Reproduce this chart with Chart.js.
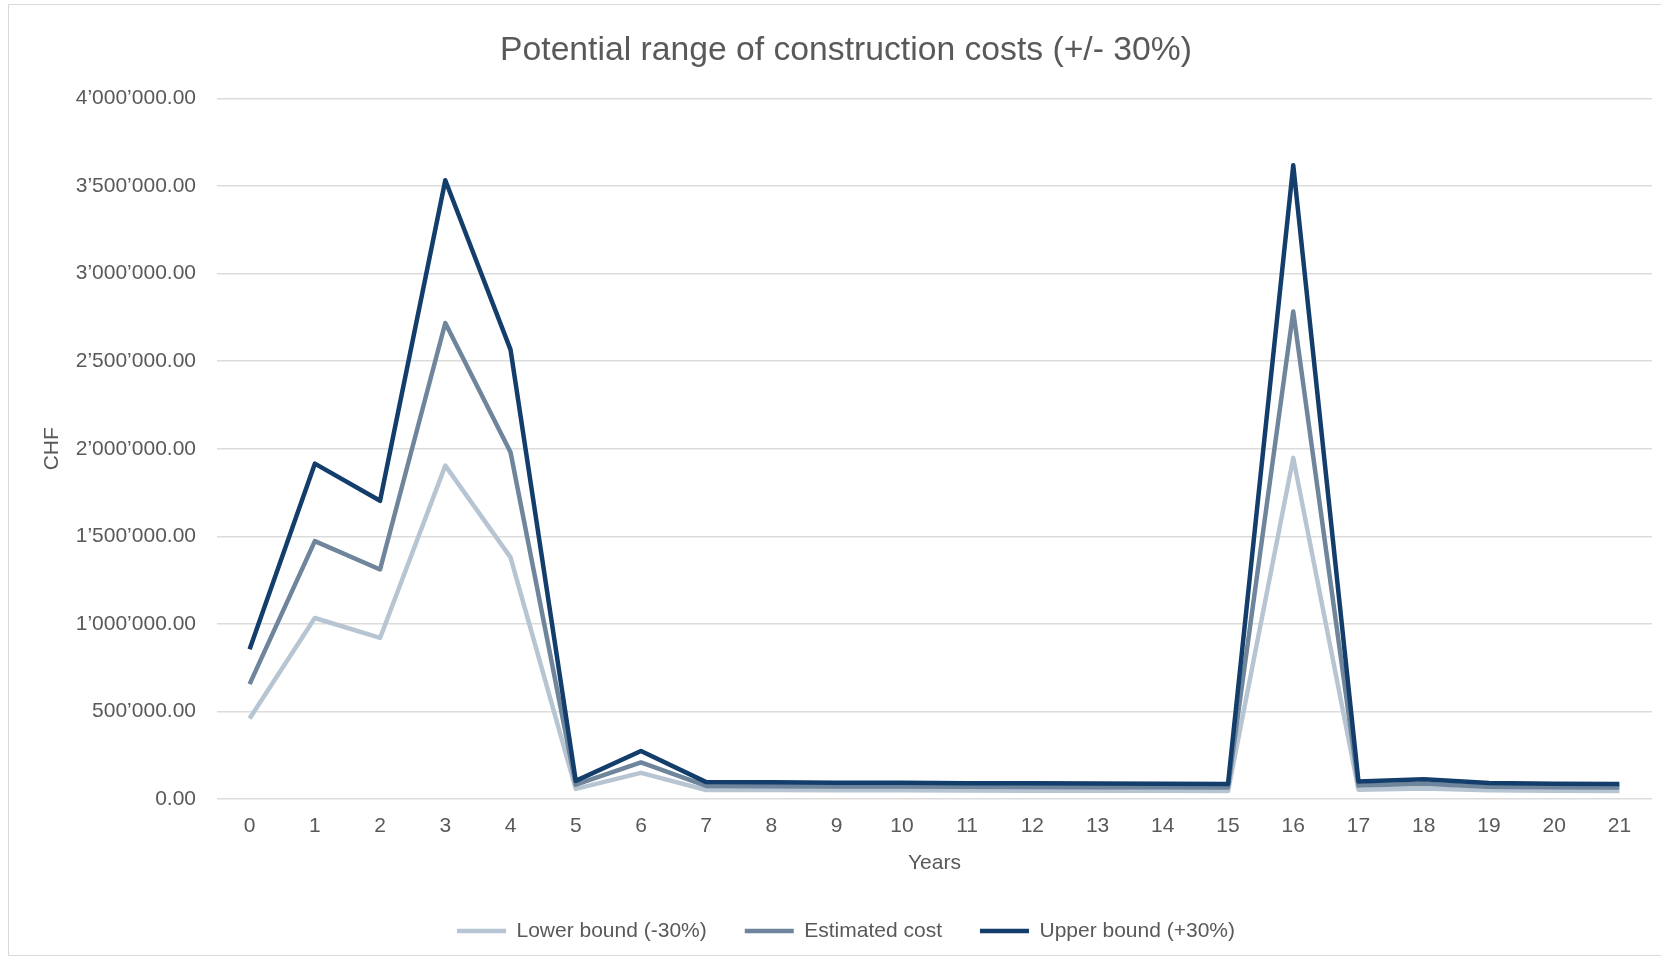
<!DOCTYPE html>
<html>
<head>
<meta charset="utf-8">
<title>Potential range of construction costs</title>
<script src="https://cdn.jsdelivr.net/npm/chart.js@4.4.0/dist/chart.umd.min.js"></script>
<style>
  html, body { margin: 0; padding: 0; background: #fff; overflow: hidden; }
  #frame {
    position: absolute; left: 8px; top: 4px;
    width: 1674px; height: 950px;
    border: 1px solid #d9d9d9; overflow: hidden;
  }
  canvas { display: block; }
</style>
</head>
<body>
<div id="frame"><canvas id="costChart" width="1674" height="955"></canvas></div>
<script>
// values (CHF)
const years = ["0", "1", "2", "3", "4", "5", "6", "7", "8", "9", "10",
  "11", "12", "13", "14", "15", "16", "17", "18", "19", "20", "21"];

const lowerBound = [460000, 1034000, 920000, 1904000, 1380000, 58000, 150000,
  52000, 52000, 51000, 50000, 49000, 48000, 48000, 47000, 46000,
  1948000, 54000, 61000, 50000, 47000, 46000];

const estimatedCost = [656000, 1473000, 1311000, 2718000, 1980000, 82000, 209000,
  75000, 74000, 72000, 72000, 70000, 69000, 68000, 67000, 66000,
  2784000, 77000, 88000, 71000, 68000, 66000];

const upperBound = [855000, 1915000, 1703000, 3533000, 2566000, 104000, 275000,
  97000, 96000, 94000, 93000, 91000, 90000, 89000, 87000, 86000,
  3618000, 100000, 114000, 92000, 88000, 86000];

const seriesLabels = ["Lower bound (-30%)", "Estimated cost", "Upper bound (+30%)"];
const yMax = 4000000;
const yStep = 500000;

const FONT = "'Liberation Sans', Arial, Helvetica, sans-serif";
const TEXT = "#595959";

// 1234567.5 -> 1'234'567.50
function chf(value) {
  const parts = Number(value).toFixed(2).split(".");
  return parts[0].replace(/\B(?=(\d{3})+(?!\d))/g, "\u2019") + "." + parts[1];
}

function lineSet(label, data, color, order) {
  return {
    label: label,
    data: data,
    borderColor: color,
    backgroundColor: color,
    borderWidth: 4.5,
    borderJoinStyle: "round",
    pointRadius: 0,
    tension: 0,
    order: order,
  };
}

const ctx = document.getElementById("costChart").getContext("2d");
new Chart(ctx, {
  type: "line",
  data: {
    labels: years,
    datasets: [
      lineSet(seriesLabels[0], lowerBound, "#b7c4d1", 2),
      lineSet(seriesLabels[1], estimatedCost, "#6e859c", 1),
      lineSet(seriesLabels[2], upperBound, "#133d6b", 0),
    ],
  },
  options: {
    responsive: false,
    animation: false,
    layout: { padding: { top: 0, right: 0, bottom: 8.5, left: 0 } },
    plugins: {
      title: {
        display: true,
        text: "Potential range of construction costs (+/- 30%)",
        color: TEXT,
        font: { family: FONT, size: 33.7, weight: "normal" },
        padding: { top: 25, bottom: 28 },
      },
      legend: {
        position: "bottom",
        labels: {
          usePointStyle: true,
          pointStyle: "line",
          pointStyleWidth: 49,
          color: TEXT,
          font: { family: FONT, size: 21 },
          padding: 38,
          sort: (a, b) => a.datasetIndex - b.datasetIndex,
        },
      },
      tooltip: { enabled: false },
    },
    scales: {
      x: {
        offset: true,
        grid: { display: false, drawTicks: false },
        border: { display: false },
        ticks: {
          color: TEXT,
          font: { family: FONT, size: 21 },
          padding: 15,
          maxRotation: 0,
          autoSkip: false,
        },
        title: {
          display: true,
          text: "Years",
          color: TEXT,
          font: { family: FONT, size: 21 },
          padding: { top: -4, bottom: 7 },
        },
      },
      y: {
        min: 0,
        max: yMax,
        grid: { color: "#dcdcdc", lineWidth: 1.5, drawTicks: false },
        border: { display: false },
        ticks: {
          stepSize: yStep,
          color: TEXT,
          font: { family: FONT, size: 21 },
          padding: 21,
          callback: (v) => chf(v),
        },
        title: {
          display: true,
          text: "CHF",
          color: TEXT,
          font: { family: FONT, size: 21 },
          padding: { top: 31, bottom: 0 },
        },
        afterFit: (scale) => { scale.width = 208; },
      },
      // empty right-hand strip so the plot ends where the reference does
      yRight: {
        position: "right",
        display: true,
        grid: { display: false },
        border: { display: false },
        ticks: { display: false },
        afterFit: (scale) => { scale.width = 31; },
      },
    },
  },
});
</script>
</body>
</html>
